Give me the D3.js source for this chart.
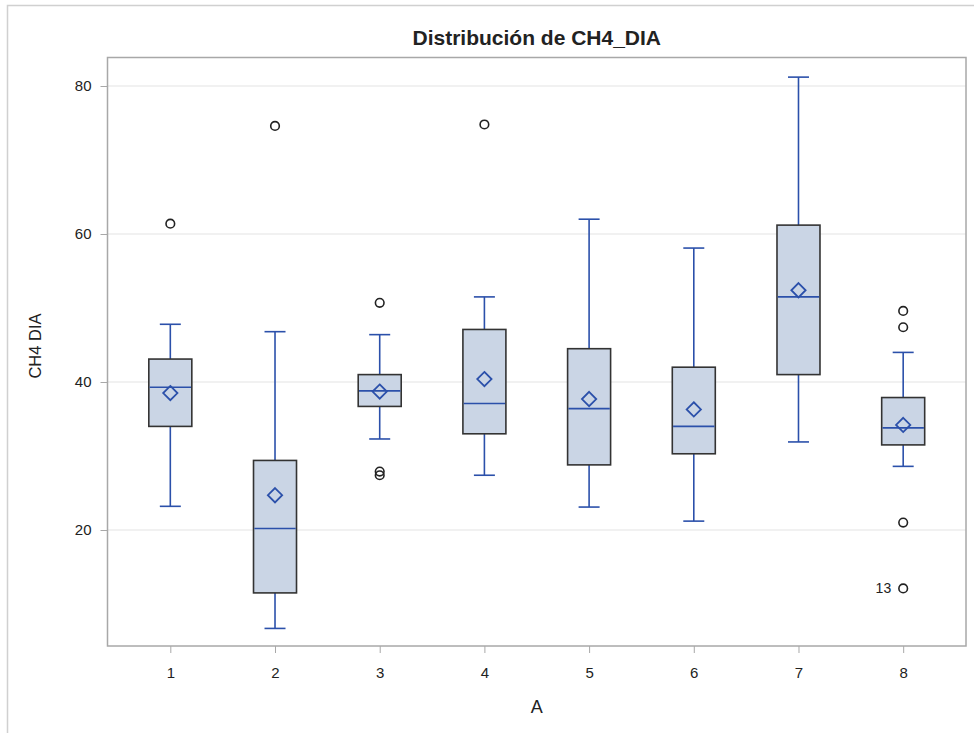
<!DOCTYPE html>
<html>
<head>
<meta charset="utf-8">
<script src="https://cdn.jsdelivr.net/npm/d3@7"></script>
<style>
  html, body { margin: 0; padding: 0; background: #fff; }
  text { font-family: "Liberation Sans", Arial, sans-serif; fill: #222; }
</style>
</head>
<body>
<svg id="chart" width="974" height="733"></svg>
<script>
const categories = ["1", "2", "3", "4", "5", "6", "7", "8"];
const whiskerLow  = [23.2, 6.7, 32.3, 27.4, 23.1, 21.2, 31.9, 28.6];
const q1          = [34.0, 11.5, 36.7, 33.0, 28.8, 30.3, 41.0, 31.5];
const medians     = [39.3, 20.2, 38.8, 37.1, 36.4, 34.0, 51.5, 33.8];
const q3          = [43.1, 29.4, 41.0, 47.1, 44.5, 42.0, 61.2, 37.9];
const whiskerHigh = [47.8, 46.8, 46.4, 51.5, 62.0, 58.1, 81.2, 44.0];
const means       = [38.5, 24.7, 38.7, 40.4, 37.7, 36.3, 52.4, 34.2];
const outlierCat  = ["1", "2", "3", "3", "3", "4", "8", "8", "8", "8"];
const outlierVal  = [61.4, 74.6, 50.7, 27.9, 27.4, 74.8, 49.6, 47.4, 21.0, 12.1];
const outlierLbl  = ["", "", "", "", "", "", "", "", "", "13"];
const yTicks = [20, 40, 60, 80];
const titleText = "Distribución de CH4_DIA";
const xLabel = "A";
const yLabel = "CH4 DIA";

const svg = d3.select("#chart");
const plot = { left: 107.5, right: 966, top: 57.5, bottom: 646 };

const x = d3.scalePoint().domain(categories).range([plot.left, plot.right]).padding(0.6);
const y = d3.scaleLinear().domain([40 - (646 - 382) / 7.4, 40 + (382 - 57.5) / 7.4]).range([plot.bottom, plot.top]);

// outer frame
svg.append("rect").attr("x", 7.5).attr("y", 5.5).attr("width", 1000).attr("height", 1000)
  .attr("fill", "none").attr("stroke", "#d0d0d0").attr("stroke-width", 1.5);

// title
svg.append("text").attr("x", (plot.left + plot.right) / 2).attr("y", 45)
  .attr("text-anchor", "middle").style("font-size", "21px").style("font-weight", "bold")
  .attr("fill", "#000").text(titleText);

// gridlines
svg.append("g").selectAll("line").data(yTicks).join("line")
  .attr("x1", plot.left).attr("x2", plot.right)
  .attr("y1", d => y(d)).attr("y2", d => y(d))
  .attr("stroke", "#e4e4e4").attr("stroke-width", 1.2);

// axes
const yAxis = d3.axisLeft(y).tickValues(yTicks).tickSize(7).tickPadding(9);
const gy = svg.append("g").attr("transform", `translate(${plot.left},0)`).call(yAxis);
gy.select(".domain").remove();
gy.selectAll(".tick line").attr("stroke", "#a8a8a8");
gy.selectAll(".tick text").style("font-size", "15px").style("font-family", "Liberation Sans, Arial, sans-serif").attr("fill", "#333");

const xAxis = d3.axisBottom(x).tickSize(7).tickPadding(14);
const gx = svg.append("g").attr("transform", `translate(0,${plot.bottom})`).call(xAxis);
gx.select(".domain").remove();
gx.selectAll(".tick line").attr("stroke", "#a8a8a8");
gx.selectAll(".tick text").style("font-size", "15px").style("font-family", "Liberation Sans, Arial, sans-serif").attr("fill", "#333");

// axis labels
svg.append("text").attr("x", (plot.left + plot.right) / 2).attr("y", 713)
  .attr("text-anchor", "middle").style("font-size", "18px").attr("fill", "#333").text(xLabel);
svg.append("text").attr("transform", `translate(41,346) rotate(-90)`)
  .attr("text-anchor", "middle").style("font-size", "16.5px").attr("fill", "#333").text(yLabel);

// boxes
const blue = "#2B50AA";
const boxW = 43, capW = 21;
const data = categories.map((c, i) => ({
  c, lo: whiskerLow[i], q1: q1[i], med: medians[i], q3: q3[i], hi: whiskerHigh[i], mean: means[i]
}));
const g = svg.append("g");
data.forEach(d => {
  const cx = x(d.c);
  g.append("line").attr("x1", cx).attr("x2", cx).attr("y1", y(d.q3)).attr("y2", y(d.hi))
    .attr("stroke", blue).attr("stroke-width", 1.6);
  g.append("line").attr("x1", cx).attr("x2", cx).attr("y1", y(d.q1)).attr("y2", y(d.lo))
    .attr("stroke", blue).attr("stroke-width", 1.6);
  g.append("line").attr("x1", cx - capW / 2).attr("x2", cx + capW / 2).attr("y1", y(d.hi)).attr("y2", y(d.hi))
    .attr("stroke", blue).attr("stroke-width", 1.6);
  g.append("line").attr("x1", cx - capW / 2).attr("x2", cx + capW / 2).attr("y1", y(d.lo)).attr("y2", y(d.lo))
    .attr("stroke", blue).attr("stroke-width", 1.6);
  g.append("rect").attr("x", cx - boxW / 2).attr("y", y(d.q3)).attr("width", boxW).attr("height", y(d.q1) - y(d.q3))
    .attr("fill", "#CAD5E5").attr("stroke", "#333").attr("stroke-width", 1.6);
  g.append("line").attr("x1", cx - boxW / 2 + 0.8).attr("x2", cx + boxW / 2 - 0.8).attr("y1", y(d.med)).attr("y2", y(d.med))
    .attr("stroke", blue).attr("stroke-width", 1.6);
  g.append("path").attr("d", d3.symbol(d3.symbolDiamond2, 130)())
    .attr("transform", `translate(${cx},${y(d.mean)})`)
    .attr("fill", "none").attr("stroke", blue).attr("stroke-width", 1.8);
});

// outliers
const outliers = outlierCat.map((c, i) => ({ c, v: outlierVal[i], lbl: outlierLbl[i] }));
svg.append("g").selectAll("circle").data(outliers).join("circle")
  .attr("cx", d => x(d.c)).attr("cy", d => y(d.v)).attr("r", 4.3)
  .attr("fill", "none").attr("stroke", "#222").attr("stroke-width", 1.6);
svg.append("g").selectAll("text").data(outliers.filter(d => d.lbl)).join("text")
  .attr("x", d => x(d.c) - 12).attr("y", d => y(d.v)).attr("dy", "0.35em")
  .attr("text-anchor", "end").style("font-size", "14px").attr("fill", "#222").text(d => d.lbl);

// plot frame
svg.append("rect").attr("x", plot.left).attr("y", plot.top)
  .attr("width", plot.right - plot.left).attr("height", plot.bottom - plot.top)
  .attr("fill", "none").attr("stroke", "#a8a8a8").attr("stroke-width", 1.5);
</script>
</body>
</html>
